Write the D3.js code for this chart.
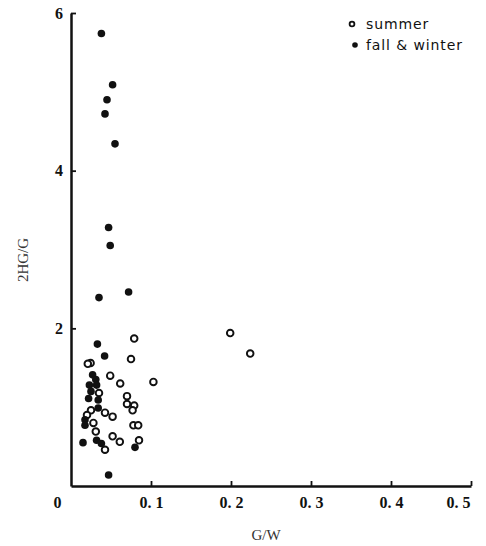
<!DOCTYPE html>
<html lang="en">
<head>
    <meta charset="UTF-8">
    <title>2HG/G vs G/W</title>
    <script src="https://d3js.org/d3.v7.min.js"></script>
    <style>
        body { margin: 0; background: #fff; }
        .tick text { font-family: "Liberation Serif", "DejaVu Serif", serif; font-weight: bold; font-size: 16px; fill: #111; }
        .legend text { font-family: "DejaVu Sans", sans-serif; font-size: 14px; fill: #111; letter-spacing: 0.9px; }
    </style>
</head>
<body>
    <svg width="486" height="546"></svg>

    <script>
        // summer (open circles): G/W, 2HG/G
        var summerX = [0.199, 0.224, 0.079, 0.075, 0.103, 0.049, 0.0615, 0.070, 0.070, 0.079, 0.077, 0.0425,
                       0.052, 0.028, 0.031, 0.078, 0.084, 0.052, 0.061, 0.0425, 0.085, 0.035, 0.0245, 0.021, 0.025, 0.020];
        var summerY = [1.94, 1.68, 1.87, 1.61, 1.32, 1.40, 1.30, 1.14, 1.04, 1.02, 0.96, 0.93,
                       0.88, 0.80, 0.69, 0.77, 0.77, 0.63, 0.56, 0.46, 0.58, 1.18, 1.56, 1.55, 0.96, 0.90];

        // fall & winter (filled dots)
        var fallX = [0.038, 0.052, 0.045, 0.0425, 0.055, 0.047, 0.049, 0.035, 0.072, 0.033, 0.042, 0.027, 0.031,
                     0.032, 0.023, 0.025, 0.022, 0.034, 0.034, 0.0175, 0.0175, 0.015, 0.032, 0.038, 0.080, 0.047];
        var fallY = [5.74, 5.09, 4.90, 4.72, 4.34, 3.28, 3.05, 2.39, 2.46, 1.80, 1.65, 1.41, 1.35,
                     1.28, 1.28, 1.20, 1.11, 1.09, 0.99, 0.84, 0.77, 0.55, 0.58, 0.54, 0.49, 0.14];

        var xTicks = [0, 0.1, 0.2, 0.3, 0.4, 0.5];
        var yTicks = [2, 4, 6];
        var legendLabels = ["summer", "fall & winter"];

        var svg = d3.select("svg");

        var x = d3.scaleLinear().domain([0, 0.5]).range([71, 471]);
        var y = d3.scaleLinear().domain([0, 6]).range([486, 13]);

        // x axis, ticks pointing up
        var gx = svg.append("g")
            .attr("transform", "translate(0," + y(0) + ")")
            .call(d3.axisBottom(x)
                .tickValues(xTicks)
                .tickSizeInner(-5)
                .tickSizeOuter(0)
                .tickPadding(11)
                .tickFormat(function(d) { return d === 0 ? "0" : d.toFixed(1).replace(".", ". "); }));
        gx.selectAll(".tick").filter(function(d) { return d === 0; }).select("line").remove();
        gx.selectAll(".tick").filter(function(d) { return d === 0; }).select("text").attr("dx", -14);
        gx.selectAll(".tick").filter(function(d) { return d === 0.5; }).select("text").attr("dx", -13);

        // y axis, ticks pointing right
        var gy = svg.append("g")
            .attr("transform", "translate(" + x(0) + ",0)")
            .call(d3.axisLeft(y)
                .tickValues(yTicks)
                .tickSizeInner(-5)
                .tickSizeOuter(0)
                .tickPadding(8)
                .tickFormat(d3.format("d")));

        svg.selectAll(".domain")
            .style("stroke", "#111")
            .style("stroke-width", "2.5px")
            .style("fill", "none");
        svg.selectAll(".tick line")
            .style("stroke", "#111")
            .style("stroke-width", "1.8px");

        // axis titles
        svg.append("text")
            .attr("x", 266).attr("y", 540)
            .attr("text-anchor", "middle")
            .style("font-family", "'Liberation Serif', serif")
            .style("font-size", "15px")
            .style("fill", "#333")
            .text("G/W");

        svg.append("text")
            .attr("transform", "translate(28,260) rotate(-90)")
            .attr("text-anchor", "middle")
            .style("font-family", "'Liberation Serif', serif")
            .style("font-size", "15px")
            .style("fill", "#333")
            .text("2HG/G");

        // points
        svg.append("g").selectAll("circle")
            .data(d3.zip(summerX, summerY))
            .enter().append("circle")
              .attr("cx", function(d) { return x(d[0]); })
              .attr("cy", function(d) { return y(d[1]); })
              .attr("r", 3.3)
              .attr("fill", "#fff")
              .attr("stroke", "#111")
              .attr("stroke-width", 1.9);

        svg.append("g").selectAll("circle")
            .data(d3.zip(fallX, fallY))
            .enter().append("circle")
              .attr("cx", function(d) { return x(d[0]); })
              .attr("cy", function(d) { return y(d[1]); })
              .attr("r", 3.8)
              .attr("fill", "#111");

        // legend
        var legend = svg.append("g").attr("class", "legend");
        legendLabels.forEach(function(label, i) {
            var row = legend.append("g").attr("transform", "translate(" + (352 + i * 3) + "," + (24 + i * 21) + ")");
            if (i === 0) {
                row.append("circle").attr("r", 2.4).attr("fill", "#fff").attr("stroke", "#111").attr("stroke-width", 1.8);
            } else {
                row.append("circle").attr("r", 2.8).attr("fill", "#111");
            }
            row.append("text").attr("x", 14 - i * 3).attr("dy", "0.35em").text(label);
        });
    </script>
</body>
</html>
